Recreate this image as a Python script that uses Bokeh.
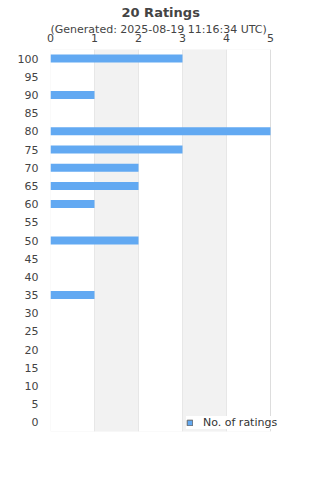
from bokeh.plotting import figure
from bokeh.models import FactorRange, Range1d, Title, BoxAnnotation, Legend, LegendItem, ColumnDataSource
from bokeh.embed import file_html
from bokeh.resources import INLINE

ratings = ["0", "5", "10", "15", "20", "25", "30", "35", "40", "45", "50",
           "55", "60", "65", "70", "75", "80", "85", "90", "95", "100"]
counts = [0, 0, 0, 0, 0, 0, 0, 1, 0, 0, 2,
          0, 1, 2, 2, 3, 5, 0, 1, 0, 3]
x_ticks = [0, 1, 2, 3, 4, 5]
x_max = 5
title_text = "20 Ratings"
subtitle_text = "(Generated: 2025-08-19 11:16:34 UTC)"
series_name = "No. of ratings"

FONT = "DejaVu Sans"
TXT = "#444444"
BAR = "#62a9f2"

# frame runs to the right page edge (so the legend is not clipped);
# the value axis spans 0..5 over the first 220 px of the 270 px frame
x_end = x_max * 270 / 220

src = ColumnDataSource(dict(r=ratings, c=counts))

p = figure(width=320, height=480, y_range=FactorRange(*ratings), x_range=Range1d(0, x_end),
           x_axis_location="above", output_backend="svg", toolbar_location=None,
           min_border_left=50, min_border_right=0, min_border_bottom=49, min_border_top=0,
           title=None)
p.outline_line_color = None
p.background_fill_color = "white"
p.border_fill_color = "white"

for lo in (1, 3):
    p.add_layout(BoxAnnotation(left=lo, right=lo + 1, fill_color="#f2f2f2", fill_alpha=1.0,
                               line_color=None, level="underlay"))
# plot-area border over the 0..5 value span
p.add_layout(BoxAnnotation(left=0, right=x_max, fill_alpha=0, line_color="#dddddd",
                           line_width=1, level="underlay"))

bars = p.hbar(y="r", right="c", left=0, height=0.44, source=src, color=BAR, line_color=None)
# hidden twin of the bars, used only for the legend swatch style (grey edged)
swatch = p.hbar(y="r", right="c", left=0, height=0.44, source=src, fill_color=BAR,
                line_color="#666666", line_width=1, visible=False)

p.xgrid.grid_line_color = "#dddddd"
p.xgrid.ticker = x_ticks
p.ygrid.grid_line_color = None

xa = p.xaxis[0]
xa.ticker = x_ticks
xa.axis_line_color = None
xa.major_tick_line_color = None
xa.minor_tick_line_color = None
xa.major_label_text_font = FONT
xa.major_label_text_font_size = "11px"
xa.major_label_text_color = TXT
xa.major_label_standoff = 2

ya = p.yaxis[0]
ya.axis_line_color = None
ya.major_tick_line_color = None
ya.major_label_text_font = FONT
ya.major_label_text_font_size = "11px"
ya.major_label_text_color = TXT
ya.major_label_standoff = 6

p.add_layout(Title(text=subtitle_text, align="left", offset=0, text_font=FONT,
                   text_font_size="11px", text_font_style="normal", text_color=TXT,
                   standoff=-10), "above")
p.add_layout(Title(text=title_text, align="left", offset=71, text_font=FONT,
                   text_font_size="13px", text_font_style="bold", text_color=TXT,
                   vertical_align="top", standoff=8), "above")

legend = Legend(items=[LegendItem(label=series_name, renderers=[swatch])],
                location=(136, 2), orientation="horizontal",
                label_text_font=FONT, label_text_font_size="11px", label_text_color="#333333",
                background_fill_color="white", background_fill_alpha=1.0,
                border_line_color=None, glyph_width=7, glyph_height=7,
                padding=7, label_standoff=10, margin=0)
p.add_layout(legend, "center")

open("out.html", "w").write(file_html(p, INLINE))
